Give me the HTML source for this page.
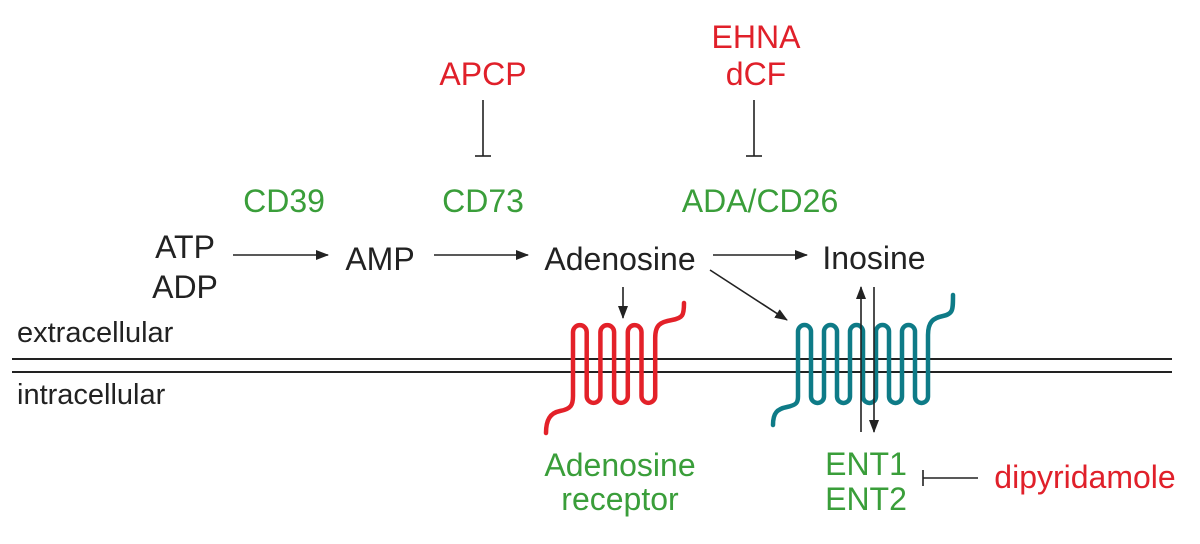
<!DOCTYPE html>
<html><head><meta charset="utf-8"><style>
html,body{margin:0;padding:0;background:#fff;}
svg{display:block;}
text{font-family:"Liberation Sans",Arial,sans-serif;}
</style></head><body>
<svg width="1200" height="544" viewBox="0 0 1200 544" xmlns="http://www.w3.org/2000/svg">
<defs>
<marker id="ah" markerWidth="13" markerHeight="10" refX="12" refY="5" orient="auto" markerUnits="userSpaceOnUse">
<path d="M0,0 L13,5 L0,10 z" fill="#222"/>
</marker>
</defs>
<line x1="12" y1="359" x2="1172" y2="359" stroke="#222" stroke-width="2"/>
<line x1="12" y1="372" x2="1172" y2="372" stroke="#222" stroke-width="2"/>
<text x="17" y="342" font-size="29" fill="#222">extracellular</text>
<text x="17" y="404" font-size="29" fill="#222">intracellular</text>

<g font-size="32" text-anchor="middle">
<text x="185" y="258" fill="#222">ATP</text>
<text x="185" y="298" fill="#222">ADP</text>
<text x="380" y="270" fill="#222">AMP</text>
<text x="620" y="270" fill="#222">Adenosine</text>
<text x="874" y="269" fill="#222">Inosine</text>
<text x="284" y="212" fill="#3a9e3a">CD39</text>
<text x="483" y="212" fill="#3a9e3a">CD73</text>
<text x="760" y="212" fill="#3a9e3a">ADA/CD26</text>
<text x="483" y="85" fill="#e0202a">APCP</text>
<text x="756" y="48" fill="#e0202a">EHNA</text>
<text x="756" y="85" fill="#e0202a">dCF</text>
<text x="620" y="476" fill="#3a9e3a">Adenosine</text>
<text x="620" y="510" fill="#3a9e3a">receptor</text>
<text x="866" y="475" fill="#3a9e3a">ENT1</text>
<text x="866" y="510" fill="#3a9e3a">ENT2</text>
<text x="1085" y="488" fill="#e0202a">dipyridamole</text>
</g>

<g stroke="#222" stroke-width="1.6" fill="none">
<line x1="233" y1="255" x2="328" y2="255" marker-end="url(#ah)"/>
<line x1="434" y1="255" x2="528" y2="255" marker-end="url(#ah)"/>
<line x1="713" y1="255" x2="807" y2="255" marker-end="url(#ah)"/>
<line x1="710" y1="270" x2="787" y2="320" marker-end="url(#ah)"/>
<line x1="623" y1="287" x2="623" y2="318" marker-end="url(#ah)"/>
<line x1="483" y1="100" x2="483" y2="156"/>
<line x1="475" y1="156" x2="491" y2="156"/>
<line x1="754" y1="100" x2="754" y2="156"/>
<line x1="746" y1="156" x2="762" y2="156"/>
<line x1="923" y1="478" x2="978" y2="478"/>
<line x1="923" y1="470" x2="923" y2="486"/>
</g>

<path fill="none" stroke="#e32129" stroke-width="4.5" stroke-linecap="round"
d="M546,433 C546,420 550,413 560,411 C571,409 573,405 573,396 L573,332
A6.85,6.85 0 0 1 586.7,332 L586.7,396 A6.85,6.85 0 0 0 600.4,396 L600.4,332
A6.85,6.85 0 0 1 614.1,332 L614.1,396 A6.85,6.85 0 0 0 627.8,396 L627.8,332
A6.85,6.85 0 0 1 641.5,332 L641.5,396 A6.85,6.85 0 0 0 655.2,396 L655.2,338
C655.2,325 660,322 672,320 C683,318 684,315 684,303"/>

<path fill="none" stroke="#0e7b87" stroke-width="4.5" stroke-linecap="round"
d="M773,425 C773,413 777,409 787,407 C797,405 798,402 798,396.5 L798,331.5
A6.5,6.5 0 0 1 811,331.5 L811,396.5 A6.5,6.5 0 0 0 824,396.5 L824,331.5
A6.5,6.5 0 0 1 837,331.5 L837,396.5 A6.5,6.5 0 0 0 850,396.5 L850,331.5
A6.5,6.5 0 0 1 863,331.5 L863,396.5 A6.5,6.5 0 0 0 876,396.5 L876,331.5
A6.5,6.5 0 0 1 889,331.5 L889,396.5 A6.5,6.5 0 0 0 902,396.5 L902,331.5
A6.5,6.5 0 0 1 915,331.5 L915,396.5 A6.5,6.5 0 0 0 928,396.5 L928,335
C928,322 933,318 943,316 C953,314 953,310 953,295"/>
<g stroke="#222" stroke-width="1.6">
<line x1="861" y1="432" x2="861" y2="287" marker-end="url(#ah)"/>
<line x1="874" y1="287" x2="874" y2="432" marker-end="url(#ah)"/>
</g>
</svg>
</body></html>
